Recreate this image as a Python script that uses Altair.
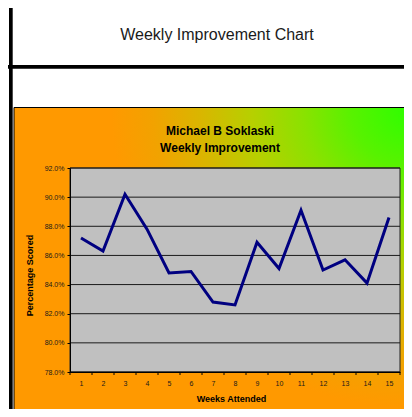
import altair as alt
import pandas as pd

# ---- data ----
weeks = [1, 2, 3, 4, 5, 6, 7, 8, 9, 10, 11, 12, 13, 14, 15]
scores = [87.2, 86.3, 90.2, 87.8, 84.8, 84.9, 82.8, 82.6, 86.9, 85.1, 89.1, 85.0, 85.7, 84.1, 88.6]
y_ticks = [78.0, 80.0, 82.0, 84.0, 86.0, 88.0, 90.0, 92.0]
week_bounds = [0.5, 1.5, 2.5, 3.5, 4.5, 5.5, 6.5, 7.5, 8.5, 9.5, 10.5, 11.5, 12.5, 13.5, 14.5, 15.5]

sheet_title = "Weekly Improvement Chart"
title_lines = ["Michael B Soklaski", "Weekly Improvement"]
x_title = "Weeks Attended"
y_title = "Percentage Scored"

FONT = "Liberation Sans"
W, H = 330, 204

df = pd.DataFrame({"week": weeks, "score": scores})
grid_df = pd.DataFrame({"v": y_ticks})
bounds_df = pd.DataFrame({"b": week_bounds})
one = alt.Data(values=[{}])

xscale = alt.Scale(domain=[0.5, 15.5], nice=False, zero=False)
yscale = alt.Scale(domain=[78, 92], nice=False, zero=False)

x_axis = alt.Axis(values=weeks, format="d", ticks=False, grid=False,
                  labelOverlap=False, labelFlush=False, labelBound=False,
                  domainColor="black", labelFont=FONT, labelFontSize=7,
                  labelColor="#1a1a1a", labelPadding=7, labelFontWeight="normal",
                  title=x_title, titleFont=FONT, titleFontSize=9,
                  titleFontWeight="bold", titleColor="black",
                  titleX=161, titleY=29, titleAlign="center",
                  titleBaseline="alphabetic", zindex=1)
y_axis = alt.Axis(values=y_ticks, labelExpr="format(datum.value, '.1f') + '%'",
                  labelOverlap=False, labelFlush=False, labelBound=False,
                  grid=False, tickSize=3, tickColor="black", domainColor="black",
                  labelFont=FONT, labelFontSize=7, labelColor="#1a1a1a",
                  labelPadding=3,
                  title=y_title, titleFont=FONT, titleFontSize=9,
                  titleFontWeight="bold", titleColor="black",
                  titleAngle=270, titleX=-41, titleY=107, titleAlign="center",
                  titleBaseline="middle", zindex=1)

# spreadsheet decorations
vline = alt.Chart(one).mark_rect(fill="black").encode(
    x=alt.value(-61), x2=alt.value(-57.3), y=alt.value(-170), y2=alt.value(260))
hline = alt.Chart(one).mark_rect(fill="black").encode(
    x=alt.value(-70), x2=alt.value(350), y=alt.value(-103), y2=alt.value(-99.3))
banner = alt.Chart(one).mark_text(
    text=sheet_title, font=FONT, fontSize=16, color="#1a1a1a",
    align="center", baseline="alphabetic").encode(x=alt.value(147), y=alt.value(-128))

grad = alt.RadialGradient(
    gradient="radial",
    x1=0.995, y1=0.11, r1=0,
    x2=0.995, y2=0.11, r2=0.8,
    stops=[
        alt.GradientStop(color="#2bff00", offset=0.0),
        alt.GradientStop(color="#58f200", offset=0.19),
        alt.GradientStop(color="#8ae200", offset=0.34),
        alt.GradientStop(color="#b6d000", offset=0.5),
        alt.GradientStop(color="#d9b600", offset=0.66),
        alt.GradientStop(color="#f2a200", offset=0.81),
        alt.GradientStop(color="#ff9900", offset=0.94),
        alt.GradientStop(color="#ff9900", offset=1.0),
    ],
)
chart_bg = alt.Chart(one).mark_rect(fill=grad, stroke="black", strokeWidth=1).encode(
    x=alt.value(-56), x2=alt.value(344), y=alt.value(-60.5), y2=alt.value(251))

t1 = alt.Chart(one).mark_text(
    text=title_lines[0], font=FONT, fontSize=12, fontWeight="bold", color="black",
    align="center", baseline="alphabetic").encode(x=alt.value(150), y=alt.value(-33))
t2 = alt.Chart(one).mark_text(
    text=title_lines[1], font=FONT, fontSize=12, fontWeight="bold", color="black",
    align="center", baseline="alphabetic").encode(x=alt.value(150), y=alt.value(-16.5))

plot_bg = alt.Chart(one).mark_rect(fill="#c0c0c0", stroke="#222222", strokeWidth=1).encode(
    x=alt.value(0), x2=alt.value(W), y=alt.value(0), y2=alt.value(H))

grid = alt.Chart(grid_df).mark_rule(color="#1a1a1a", strokeWidth=1).encode(
    y=alt.Y("v:Q", scale=yscale, axis=y_axis), x=alt.value(0), x2=alt.value(W))

xticks = alt.Chart(bounds_df).mark_rule(color="black", strokeWidth=1).encode(
    x=alt.X("b:Q", scale=xscale, axis=x_axis), y=alt.value(H), y2=alt.value(H + 3))

line = alt.Chart(df).mark_line(color="#000080", strokeWidth=3, strokeJoin="miter").encode(
    x=alt.X("week:Q", scale=xscale, axis=x_axis),
    y=alt.Y("score:Q", scale=yscale, axis=y_axis),
)

chart = alt.layer(
    vline, hline, banner, chart_bg, t1, t2, plot_bg, grid, xticks, line
).properties(
    width=W, height=H, autosize="none",
    padding={"left": 62, "top": 160, "right": 4, "bottom": 37},
).configure_view(stroke=None).configure_axis(labelOverlap=False)

chart.save("out.html", embed_options={"renderer": "svg", "actions": False})
